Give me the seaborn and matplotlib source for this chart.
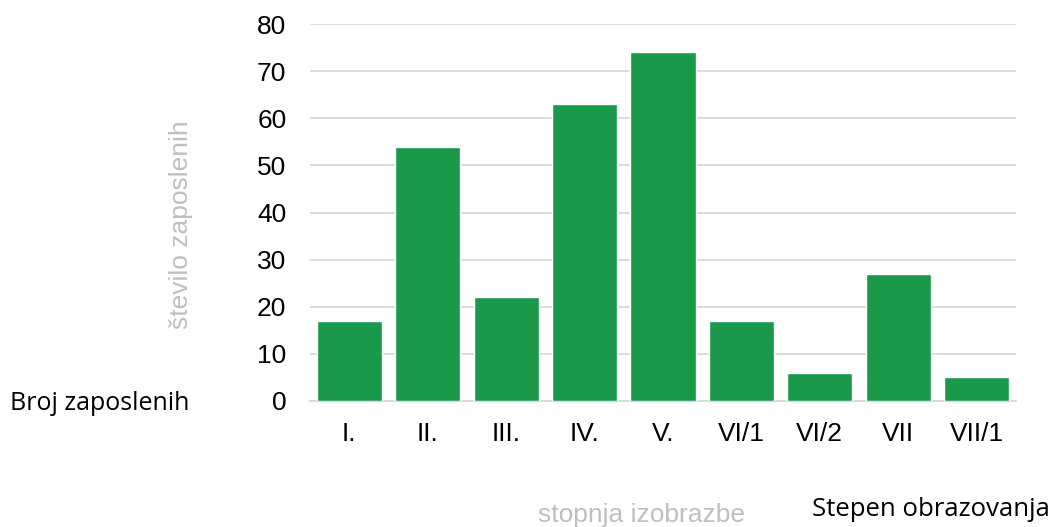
import matplotlib
matplotlib.use("Agg")
import matplotlib.pyplot as plt
import seaborn as sns
import pandas as pd

categories = ["I.", "II.", "III.", "IV.", "V.", "VI/1", "VI/2", "VII", "VII/1"]
values = [17, 54, 22, 63, 74, 17, 6, 27, 5]
yticks = [0, 10, 20, 30, 40, 50, 60, 70, 80]

sns.set_theme(style="white")
plt.rcParams['font.family'] = ['Liberation Sans', 'DejaVu Sans']

df = pd.DataFrame({"cat": categories, "val": values})

fig = plt.figure(figsize=(10.53, 5.27), dpi=100)
ax = fig.add_axes([310/1053, 1-401/527, 706/1053, 377/527])
sns.barplot(data=df, x="cat", y="val", color="#1a994b", saturation=1, width=0.83, ax=ax, zorder=3)
ax.set_ylim(0, 80)
ax.set_xlim(-0.5, len(categories)-0.5)
ax.set_yticks(yticks)
ax.yaxis.grid(True, color="#d9d9d9", linewidth=1.3, zorder=0)
ax.set_axisbelow(True)
for s in ["top", "right", "left"]:
    ax.spines[s].set_visible(False)
ax.spines["bottom"].set_color("#d9d9d9")
ax.spines["bottom"].set_linewidth(1.3)
ax.tick_params(axis="both", length=0, labelsize=19, colors="black")
ax.tick_params(axis="y", pad=17)
ax.tick_params(axis="x", pad=15)
ax.set_xlabel("")
ax.set_ylabel("")

fig.text(181/1053, 1-225/527, "število zaposlenih", rotation=90, color="#bfbfbf", fontsize=19, ha="center", va="center")
fig.text(10/1053, 1-403/527, "Broj zaposlenih", color="black", fontsize=18, ha="left", va="center", family=["Open Sans", "DejaVu Sans"])
fig.text(642/1053, 1-515/527, "stopnja izobrazbe", color="#bfbfbf", fontsize=19, ha="center", va="center")
fig.text(1050/1053, 1-510/527, "Stepen obrazovanja", color="black", fontsize=18.5, ha="right", va="center", family=["Open Sans", "DejaVu Sans"])

fig.savefig("out.png", dpi=100)
